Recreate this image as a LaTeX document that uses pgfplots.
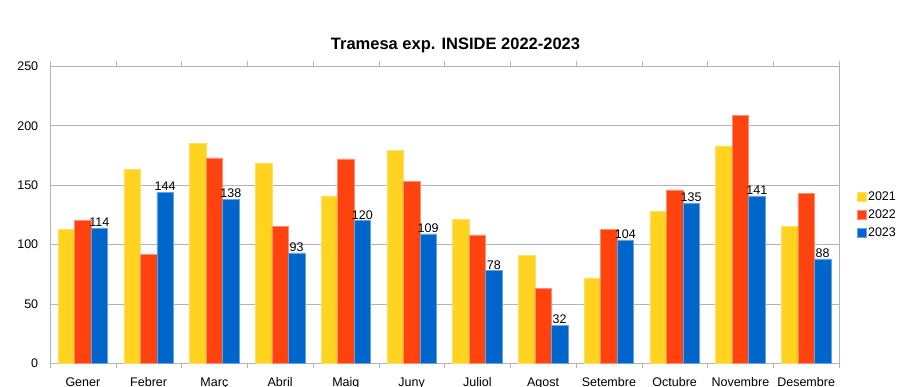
\documentclass[border=0pt]{standalone}
\usepackage{pgfplots}
\pgfplotsset{compat=1.18}
\usepackage{fontspec}
\setmainfont{Liberation Sans}
\definecolor{cyel}{HTML}{FFD320}
\definecolor{cred}{HTML}{FF420E}
\definecolor{cblu}{HTML}{0066CC}
\definecolor{cgrid}{HTML}{B3B3B3}
\begin{document}
\begin{tikzpicture}[x=1pt,y=1pt]
\path[use as bounding box] (0,0) rectangle (912,386);
\begin{axis}[
  at={(50pt,22.7pt)}, anchor=south west,
  scale only axis, width=789pt, height=297pt,
  ybar=0pt, bar width=0.25,
  xmin=-0.5, xmax=11.5, ymin=0, ymax=250,
  ytick={0,50,...,250},
  xtick={0,...,11},
  xticklabels={Gener,Febrer,Març,Abril,Maig,Juny,Juliol,Agost,Setembre,Octubre,Novembre,Desembre},
  minor xtick={-0.5,0.5,...,11.5},
  major x tick style={draw=none},
  minor tick length=5pt,
  tick align=outside,
  ytick style={draw=none},
  x tick style={cgrid},
  ymajorgrids, grid style={cgrid, line width=0.8pt},
  axis line style={cgrid, line width=0.8pt},
  /pgf/number format/assume math mode=true,
  tick label style={font=\fontsize{12.5}{14}\selectfont},
  xticklabel style={anchor=base, yshift=-19pt},
  yticklabel style={xshift=-4pt},
  title={\textbf{Tramesa exp. INSIDE 2022-2023}},
  title style={font=\fontsize{16.5}{18}\selectfont, at={(0.5,1)}, anchor=base, yshift=11pt, xshift=11pt},
  legend style={at={(1.022,0.5)}, anchor=west, draw=none, fill=none,
    font=\fontsize{12.5}{14}\selectfont, row sep=3.5pt, inner sep=0pt,
    /tikz/every even column/.append style={column sep=3pt}},
  legend image code/.code={\fill[#1] (0pt,-4.5pt) rectangle (9pt,4.5pt);},
  legend cell align=left,
  clip=false,
]
\addplot[fill=cyel, draw=cyel!70!white, line width=0.5pt] coordinates {(0,113) (1,163) (2,185) (3,168) (4,141) (5,179) (6,121) (7,91) (8,72) (9,128) (10,183) (11,115)};
\addplot[fill=cred, draw=cred!60!white, line width=0.5pt] coordinates {(0,120) (1,92) (2,173) (3,115) (4,172) (5,153) (6,108) (7,63) (8,113) (9,146) (10,209) (11,143)};
\addplot[fill=cblu, draw=cblu!60!white, line width=0.5pt,
  nodes near coords, every node near coord/.append style={font=\fontsize{12.5}{14}\selectfont, text=black, inner sep=1pt, anchor=south}] coordinates {(0,114) (1,144) (2,138) (3,93) (4,120) (5,109) (6,78) (7,32) (8,104) (9,135) (10,141) (11,88)};
\legend{2021,2022,2023}
\end{axis}
\end{tikzpicture}
\end{document}
